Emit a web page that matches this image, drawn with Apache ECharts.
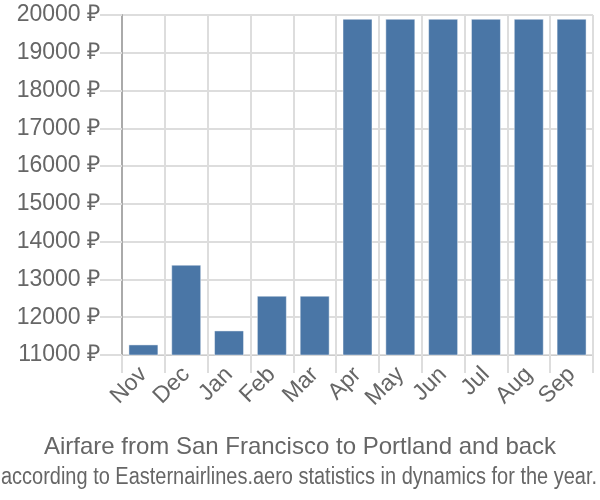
<!DOCTYPE html>
<html>
<head>
<meta charset="utf-8">
<script src="https://cdn.jsdelivr.net/npm/echarts@6/dist/echarts.min.js"></script>
<style>html,body{margin:0;padding:0;background:#fff;}#c{width:600px;height:500px;}</style>
</head>
<body>
<div id="c"></div>
<script>
const months = ['Nov','Dec','Jan','Feb','Mar','Apr','May','Jun','Jul','Aug','Sep'];
const prices = [11280, 13390, 11650, 12570, 12570, 19900, 19900, 19900, 19900, 19900, 19900];
const yMin = 11000, yMax = 20000, yStep = 1000;
const titleText = 'Airfare from San Francisco to Portland and back';
const subtitleText = 'according to Easternairlines.aero statistics in dynamics for the year.';

// condensed subtitle: measure natural width and squeeze to fit
const subFont = '23px "Liberation Sans"';
const cv = document.createElement('canvas').getContext('2d');
cv.font = subFont;
const subW = cv.measureText(subtitleText).width;
const subScale = 596 / subW;

const chart = echarts.init(document.getElementById('c'));
chart.setOption({
  animation: false,
  backgroundColor: '#fff',
  title: {
    text: titleText,
    left: 'center',
    top: 430,
    textStyle: {fontFamily: 'Liberation Sans', fontSize: 24, fontWeight: 'normal', color: '#666'}
  },
  graphic: [{
    type: 'text',
    x: 299,
    y: 489,
    scaleX: subScale,
    style: {
      text: subtitleText,
      font: subFont,
      fill: '#666',
      textAlign: 'center',
      textVerticalAlign: 'bottom'
    }
  }],
  grid: {left: 122, right: 7, top: 15, bottom: 145, containLabel: false},
  xAxis: {
    type: 'category',
    data: months,
    boundaryGap: true,
    axisLine: {show: true, lineStyle: {color: '#ccc', width: 1}},
    axisTick: {show: true, length: 18, lineStyle: {color: '#ddd', width: 2}},
    splitLine: {show: true, lineStyle: {color: '#ddd', width: 2}},
    axisLabel: {rotate: 45, margin: 16, fontFamily: 'Liberation Sans', fontSize: 23, color: '#666'}
  },
  yAxis: {
    type: 'value',
    min: yMin, max: yMax, interval: yStep,
    axisLine: {show: true, lineStyle: {color: '#aaa', width: 2}},
    axisTick: {show: true, length: 22, lineStyle: {color: '#ddd', width: 2}},
    splitLine: {show: true, lineStyle: {color: '#ddd', width: 2}},
    axisLabel: {margin: 22, formatter: function (v) { return v + ' ₽'; }, fontFamily: 'Liberation Sans', fontSize: 23, color: '#666'}
  },
  series: [{
    type: 'bar',
    data: prices,
    barCategoryGap: '30%',
    itemStyle: {color: '#4a76a6', borderColor: 'rgba(255,255,255,0.45)', borderWidth: 1}
  }]
});
</script>
</body>
</html>
